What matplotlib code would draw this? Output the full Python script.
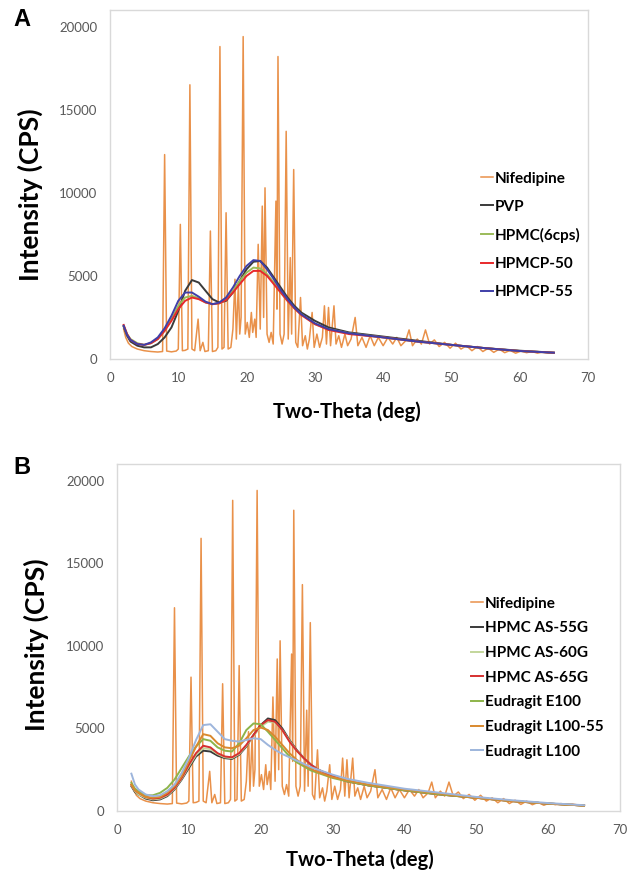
import numpy as np
import matplotlib
matplotlib.use('Agg')
import matplotlib.pyplot as plt

plt.rcParams['font.family'] = ['Lato', 'DejaVu Sans']

# Nifedipine (crystalline) pattern: (2theta, CPS)
nif_x = [2.0, 2.3, 2.7, 3.2, 4.0, 5.0, 6.0, 7.0, 7.7,
         8.0, 8.3, 9.0, 9.7, 10.0, 10.3, 10.6, 11.0, 11.4, 11.7, 12.0, 12.4, 12.9, 13.2,
         13.6, 13.9, 14.4, 14.7, 15.0, 15.5, 15.8, 16.1, 16.4, 16.7, 17.0, 17.3, 17.7,
         18.0, 18.3, 18.5, 18.8, 19.0, 19.2, 19.5, 19.8, 20.1, 20.4, 20.7, 20.9, 21.2,
         21.4, 21.7, 22.0, 22.3, 22.5, 22.7, 23.0, 23.3, 23.6, 23.9, 24.3, 24.45, 24.6,
         24.9, 25.2, 25.5, 25.8, 26.1, 26.4, 26.6, 26.9, 27.2, 27.5, 27.9, 28.2, 28.6,
         28.9, 29.2, 29.6, 29.9, 30.3, 30.7, 31.1, 31.4, 31.7, 32.0, 32.3, 32.8, 33.1,
         33.5, 33.9, 34.4, 34.8, 35.3, 35.9, 36.3, 36.9, 37.5, 38.1, 38.7, 39.3, 40.0,
         40.7, 41.4, 42.0, 42.6, 43.3, 43.8, 44.3, 45.0, 45.6, 46.2, 46.8, 47.5, 48.2,
         49.0, 49.8, 50.6, 51.4, 52.2, 53.0, 53.8, 54.6, 55.4, 56.2, 57.0, 57.8, 58.6,
         59.4, 60.2, 61.0, 61.8, 62.6, 63.4, 64.2, 65.0]
nif_y = [1800, 1300, 950, 750, 600, 500, 450, 420, 450,
         12300, 480, 430, 480, 600, 8100, 500, 520, 600, 16500, 600, 500, 2400, 500,
         1000, 450, 500, 7700, 450, 500, 700, 18800, 600, 700, 8800, 600, 700,
         1800, 4800, 1200, 4500, 1500, 2500, 19400, 1500, 2200, 1300, 2800, 1600, 2400,
         1300, 6900, 1800, 9200, 2500, 10300, 1500, 1000, 1600, 900, 9500, 3000, 18200,
         1500, 900, 1500, 13700, 1200, 6100, 1500, 11400, 1000, 700, 3700, 800, 1400,
         600, 1200, 2800, 700, 1500, 700, 1300, 3200, 900, 3100, 800, 3200, 900,
         1400, 700, 1500, 800, 1200, 2500, 800, 1300, 700, 1400, 800, 1300, 800,
         1300, 900, 1300, 800, 1100, 1750, 800, 1200, 900, 1750, 900, 1150, 750,
         1000, 650, 950, 600, 800, 500, 750, 450, 650, 400, 600, 380, 520,
         350, 480, 380, 450, 350, 420, 360, 370]

# amorphous halos, sampled on a common 2theta grid
halo_x = [2, 2.5, 3, 4, 5, 6, 7, 8, 9, 10, 11, 12, 13, 14, 15, 16, 17, 18, 19, 20,
          21, 22, 23, 24, 25, 26, 27, 28, 30, 32, 35, 40, 45, 50, 55, 60, 65]

# panel A
pvp = [1950, 1400, 1050, 800, 700, 700, 900, 1300, 1900, 2900, 4100, 4750, 4600, 4100,
       3600, 3400, 3500, 4000, 4700, 5400, 5850, 5900, 5500, 4900, 4300, 3700, 3200,
       2800, 2300, 1900, 1600, 1350, 1100, 850, 650, 500, 380]
hpmc6 = [2000, 1500, 1200, 950, 850, 950, 1200, 1700, 2400, 3200, 3700, 3800, 3650, 3400,
         3300, 3350, 3600, 4100, 4700, 5200, 5500, 5450, 5100, 4600, 4000, 3500, 3050,
         2700, 2100, 1800, 1550, 1300, 1050, 850, 650, 480, 380]
hpmcp50 = [2050, 1500, 1150, 900, 850, 950, 1200, 1700, 2300, 3000, 3500, 3700, 3600, 3400,
           3300, 3350, 3550, 4000, 4500, 5000, 5300, 5300, 5000, 4500, 4000, 3500, 3050,
           2650, 2100, 1750, 1500, 1300, 1050, 850, 650, 480, 380]
hpmcp55 = [2000, 1450, 1150, 900, 850, 1000, 1300, 1850, 2600, 3500, 4000, 4000, 3750, 3450,
           3300, 3400, 3700, 4300, 5000, 5600, 5950, 5900, 5400, 4800, 4150, 3600, 3100,
           2700, 2150, 1800, 1550, 1300, 1050, 850, 650, 480, 380]

# panel B
as55 = [1500, 1150, 1000, 750, 650, 700, 900, 1300, 1900, 2600, 3300, 3650, 3600, 3350,
        3200, 3150, 3400, 3900, 4600, 5200, 5600, 5500, 5000, 4300, 3700, 3200, 2800,
        2500, 2100, 1800, 1550, 1250, 1000, 800, 600, 450, 330]
as60 = [1550, 1200, 1000, 800, 700, 750, 950, 1350, 1950, 2700, 3400, 3800, 3750, 3450,
        3250, 3200, 3450, 3950, 4550, 5100, 5400, 5350, 4900, 4250, 3650, 3200, 2800,
        2500, 2100, 1800, 1550, 1250, 1000, 800, 600, 450, 330]
as65 = [1600, 1250, 1100, 850, 750, 800, 1000, 1400, 2000, 2800, 3500, 3950, 3850, 3500,
        3300, 3250, 3500, 4000, 4600, 5200, 5500, 5400, 4900, 4200, 3650, 3200, 2800,
        2500, 2100, 1800, 1550, 1250, 1000, 800, 600, 450, 330]
e100 = [1700, 1350, 1200, 950, 950, 1100, 1400, 1900, 2600, 3300, 3900, 4350, 4250, 3850,
        3650, 3600, 4100, 4900, 5300, 5250, 4800, 4300, 3800, 3300, 2950, 2700, 2450,
        2300, 2000, 1800, 1550, 1250, 1000, 800, 600, 450, 330]
l10055 = [1600, 1250, 1100, 850, 800, 850, 1100, 1500, 2100, 3000, 3900, 4650, 4550, 4100,
          3850, 3800, 3950, 4400, 4900, 5050, 4900, 4500, 4000, 3500, 3100, 2800, 2550,
          2350, 2050, 1850, 1600, 1300, 1050, 800, 600, 450, 330]
l100 = [2260, 1600, 1300, 1000, 900, 950, 1200, 1600, 2300, 3200, 4300, 5200, 5250, 4800,
        4350, 4250, 4200, 4300, 4400, 4350, 4000, 3700, 3450, 3250, 3050, 2850, 2650,
        2500, 2200, 1950, 1700, 1350, 1100, 850, 650, 480, 350]

labels_a = ['Nifedipine', 'PVP', 'HPMC(6cps)', 'HPMCP-50', 'HPMCP-55']
series_a = [pvp, hpmc6, hpmcp50, hpmcp55]
colors_a = ['#E9914A', '#3a3a3a', '#9BBB59', '#E8292B', '#3F3FA8']

labels_b = ['Nifedipine', 'HPMC AS-55G', 'HPMC AS-60G', 'HPMC AS-65G',
            'Eudragit E100', 'Eudragit L100-55', 'Eudragit L100']
series_b = [as55, as60, as65, e100, l10055, l100]
colors_b = ['#E9914A', '#3a3a3a', '#C3D69B', '#D63030', '#8DB44A', '#D9892E', '#9DB5DC']

W, H = 635, 877
fig = plt.figure(figsize=(W / 100, H / 100), dpi=100)


def px_axes(l, t, r, b):
    return fig.add_axes([l / W, 1 - b / H, (r - l) / W, (b - t) / H])


def style(ax):
    ax.set_xlim(0, 70)
    ax.set_ylim(0, 21000)
    ax.set_xticks(range(0, 71, 10))
    ax.set_yticks(range(0, 20001, 5000))
    for s in ax.spines.values():
        s.set_color('#D9D9D9')
        s.set_linewidth(1)
    ax.tick_params(length=0, labelsize=9.5, labelcolor='#595959', pad=9)


def draw(ax, series, labels, colors, leg_xy, spacing):
    lines = []
    for ys, c in zip(series, colors[1:]):
        l, = ax.plot(halo_x, ys, color=c, lw=1.4)
        lines.append(l)
    ln, = ax.plot(nif_x, nif_y, color=colors[0], lw=1.1, zorder=1)
    handles = [ln] + lines
    ax.legend(handles, labels, loc='upper left', bbox_to_anchor=leg_xy,
              bbox_transform=fig.transFigure, frameon=False, handlelength=0.8,
              handletextpad=0.15, borderpad=0, labelspacing=spacing,
              prop={'weight': 'bold', 'size': 11})


axA = px_axes(110, 10, 588, 359)
style(axA)
draw(axA, series_a, labels_a, colors_a, (473 / W, 1 - 164 / H), 0.92)

axB = px_axes(117, 464, 620, 811)
style(axB)
draw(axB, series_b, labels_b, colors_b, (463 / W, 1 - 589 / H), 0.7)

for lab, yy in [('A', 20), ('B', 467)]:
    fig.text(22 / W, 1 - yy / H, lab, fontsize=17, fontweight='bold', ha='center',
             va='center', family='Liberation Sans')
fig.text(30 / W, 1 - 195 / H, 'Intensity (CPS)', fontsize=19, fontweight='bold',
         rotation=90, ha='center', va='center')
fig.text(36 / W, 1 - 645 / H, 'Intensity (CPS)', fontsize=19, fontweight='bold',
         rotation=90, ha='center', va='center')
fig.text(347 / W, 1 - 412 / H, 'Two-Theta (deg)', fontsize=14.5, fontweight='bold',
         ha='center', va='center')
fig.text(360 / W, 1 - 860 / H, 'Two-Theta (deg)', fontsize=14.5, fontweight='bold',
         ha='center', va='center')

fig.savefig('out.png', dpi=100)
